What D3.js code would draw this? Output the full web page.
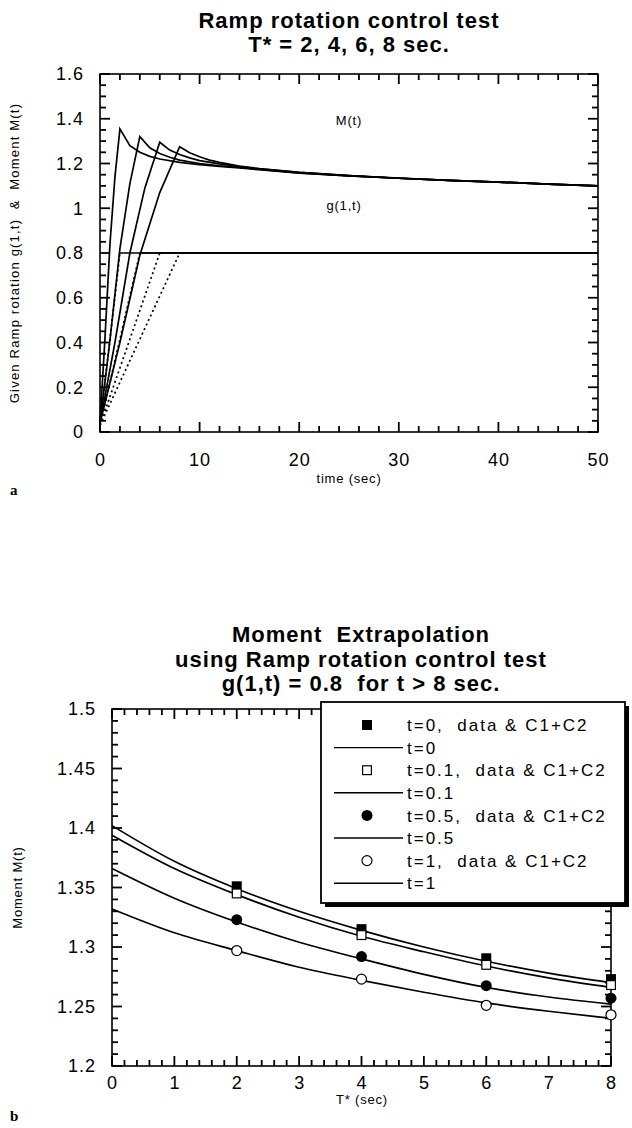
<html>
<head>
  <script src="https://d3js.org/d3.v7.min.js"></script>
  <style>
    body { margin: 0; background: #fff; font-family: 'Liberation Sans', Arial, Helvetica, sans-serif; }
    svg text { fill: #000; }
    .lbl text { font-size: 18px; letter-spacing: 1px; font-family: 'Liberation Sans', Arial, sans-serif; }
    .lbl .domain, .lbl line { display: none; }
    .title { font-weight: bold; font-size: 22px; letter-spacing: 1px; text-anchor: middle; }
    .axlabel { font-size: 13px; letter-spacing: 0.8px; text-anchor: middle; }
  </style>
</head>
<body>
  <svg id="fig" width="632" height="1128"></svg>

  <script>
    // ---- DATA : chart (a) ----
    const rampTimes = [2, 4, 6, 8];
    // moment M(t) for each ramp time T*, [time, moment]
    const momentT2 = [[0, 0.04], [0.5, 0.42], [1, 0.84], [1.5, 1.14], [2, 1.355], [3, 1.28], [4, 1.25], [5, 1.232], [6, 1.22], [8, 1.205], [10, 1.195], [12, 1.187], [14, 1.18], [16, 1.172], [20, 1.157], [25, 1.145], [30, 1.134], [35, 1.125], [40, 1.117], [45, 1.108], [50, 1.10]];
    const momentT4 = [[0, 0.04], [1, 0.41], [2, 0.82], [3, 1.11], [4, 1.32], [5, 1.27], [6, 1.245], [7, 1.228], [8, 1.215], [10, 1.2], [12, 1.19], [14, 1.182], [16, 1.174], [20, 1.158], [25, 1.145], [30, 1.134], [35, 1.125], [40, 1.117], [45, 1.108], [50, 1.10]];
    const momentT6 = [[0, 0.04], [1.5, 0.40], [3, 0.80], [4.5, 1.09], [6, 1.295], [7, 1.26], [8, 1.24], [9, 1.225], [10, 1.213], [12, 1.198], [14, 1.186], [16, 1.176], [20, 1.16], [25, 1.146], [30, 1.134], [35, 1.125], [40, 1.117], [45, 1.108], [50, 1.10]];
    const momentT8 = [[0, 0.04], [2, 0.40], [4, 0.79], [6, 1.07], [8, 1.275], [9, 1.248], [10, 1.23], [11, 1.215], [12, 1.205], [14, 1.188], [16, 1.177], [20, 1.16], [25, 1.146], [30, 1.135], [35, 1.125], [40, 1.117], [45, 1.108], [50, 1.10]];
    const momentCurves = [momentT2, momentT4, momentT6, momentT8];
    const rampLevel = 0.8;   // g(1,t) plateau
    const rampStart = 0.03;
    const timeEnd = 50;

    // ---- DATA : chart (b) ----
    const tStar = [2, 4, 6, 8];
    const dataT0 = [1.351, 1.315, 1.2905, 1.273];
    const dataT01 = [1.345, 1.310, 1.285, 1.268];
    const dataT05 = [1.323, 1.292, 1.2675, 1.257];
    const dataT1 = [1.297, 1.273, 1.251, 1.243];
    const fitX = [0, 1, 2, 3, 4, 5, 6, 7, 8];
    const fitT0 = [1.402, 1.372, 1.349, 1.330, 1.314, 1.300, 1.288, 1.278, 1.270];
    const fitT01 = [1.394, 1.366, 1.344, 1.325, 1.309, 1.296, 1.284, 1.274, 1.266];
    const fitT05 = [1.366, 1.341, 1.321, 1.304, 1.290, 1.277, 1.266, 1.258, 1.252];
    const fitT1 = [1.332, 1.312, 1.297, 1.283, 1.272, 1.262, 1.253, 1.246, 1.240];
    const legendLabels = ["t=0,  data & C1+C2", "t=0", "t=0.1,  data & C1+C2", "t=0.1",
      "t=0.5,  data & C1+C2", "t=0.5", "t=1,  data & C1+C2", "t=1"];
    const legendMarks = ["fsq", "line", "osq", "line", "fci", "line", "oci", "line"];

    const tickColor = "#000";
    const svg = d3.select("#fig");

    // inward ticks on all four sides, labels on left/bottom
    function frame(g, xs, ys, w, h, xMajor, xMinor, yMajor, yMinor, yFmt, xPad) {
      const major = 10, minor = 6;
      const isMajor = (list, v) => list.some(m => Math.abs(m - v) < 1e-6);
      const xt = xMinor.map(v => ({ v: v, len: isMajor(xMajor, v) ? major : minor }));
      const yt = yMinor.map(v => ({ v: v, len: isMajor(yMajor, v) ? major : minor }));
      g.selectAll("line.xb").data(xt).join("line").attr("class", "xb")
        .attr("x1", d => xs(d.v)).attr("x2", d => xs(d.v)).attr("y1", h).attr("y2", d => h - d.len)
        .attr("stroke", tickColor).attr("stroke-width", 1.8);
      g.selectAll("line.xt").data(xt).join("line").attr("class", "xt")
        .attr("x1", d => xs(d.v)).attr("x2", d => xs(d.v)).attr("y1", 0).attr("y2", d => d.len)
        .attr("stroke", tickColor).attr("stroke-width", 1.8);
      g.selectAll("line.yl").data(yt).join("line").attr("class", "yl")
        .attr("y1", d => ys(d.v)).attr("y2", d => ys(d.v)).attr("x1", 0).attr("x2", d => d.len)
        .attr("stroke", tickColor).attr("stroke-width", 1.8);
      g.selectAll("line.yr").data(yt).join("line").attr("class", "yr")
        .attr("y1", d => ys(d.v)).attr("y2", d => ys(d.v)).attr("x1", w).attr("x2", d => w - d.len)
        .attr("stroke", tickColor).attr("stroke-width", 1.8);
      // labels through the axes
      g.append("g").attr("class", "lbl").attr("transform", `translate(0,${h})`)
        .call(d3.axisBottom(xs).tickValues(xMajor).tickSize(0).tickPadding(xPad).tickFormat(d3.format("~g")));
      g.append("g").attr("class", "lbl")
        .call(d3.axisLeft(ys).tickValues(yMajor).tickSize(0).tickPadding(16).tickFormat(yFmt));
      g.append("rect").attr("width", w).attr("height", h)
        .attr("fill", "none").attr("stroke", "#000").attr("stroke-width", 1.6);
    }

    // ================= chart (a) =================
    const mA = { left: 100, top: 74, w: 498, h: 358 };
    const gA = svg.append("g").attr("transform", `translate(${mA.left},${mA.top})`);
    const xA = d3.scaleLinear().domain([0, 50]).range([0, mA.w]);
    const yA = d3.scaleLinear().domain([0, 1.6]).range([mA.h, 0]);

    frame(gA, xA, yA, mA.w, mA.h,
      d3.range(0, 51, 10), d3.range(0, 51, 2),
      d3.range(0, 1.61, 0.2), d3.range(0, 1.61, 0.05),
      d => String(+d.toFixed(1)), 21);

    const lineA = d3.line().x(d => xA(d[0])).y(d => yA(d[1]));

    // g(1,t): dotted ramp then flat
    gA.selectAll("path.ramp")
      .data(rampTimes)
      .join("path").attr("class", "ramp")
      .attr("d", T => lineA([[0, rampStart], [T, rampLevel]]))
      .attr("fill", "none").attr("stroke", "#000")
      .attr("stroke-width", 1.7).attr("stroke-dasharray", "2,3");
    gA.selectAll("path.flat")
      .data(rampTimes)
      .join("path").attr("class", "flat")
      .attr("d", T => lineA([[T, rampLevel], [timeEnd, rampLevel]]))
      .attr("fill", "none").attr("stroke", "#000").attr("stroke-width", 1.4);

    // M(t)
    gA.selectAll("path.moment")
      .data(momentCurves)
      .join("path").attr("class", "moment")
      .attr("d", lineA)
      .attr("fill", "none").attr("stroke", "#000").attr("stroke-width", 1.7);

    gA.append("text").attr("x", xA(25)).attr("y", yA(1.37)).attr("class", "axlabel").text("M(t)");
    gA.append("text").attr("x", xA(24.5)).attr("y", yA(0.99)).attr("class", "axlabel").text("g(1,t)");

    svg.append("text").attr("class", "title").attr("x", 349).attr("y", 28).text("Ramp rotation control test");
    svg.append("text").attr("class", "title").attr("x", 349).attr("y", 52).text("T* = 2, 4, 6, 8 sec.");
    svg.append("text").attr("class", "axlabel").attr("x", 349).attr("y", 483).text("time (sec)");
    svg.append("text").attr("class", "axlabel").style("white-space", "pre").style("letter-spacing", "1.2px")
      .attr("transform", `translate(19,${mA.top + mA.h / 2}) rotate(-90)`)
      .text("Given Ramp rotation g(1,t)  &  Moment M(t)");
    svg.append("text").attr("x", 10).attr("y", 495)
      .style("font-family", "'Liberation Serif', serif").style("font-weight", "bold").style("font-size", "15px")
      .text("a");

    // ================= chart (b) =================
    const mB = { left: 112, top: 709, w: 499, h: 357 };
    const gB = svg.append("g").attr("transform", `translate(${mB.left},${mB.top})`);
    const xB = d3.scaleLinear().domain([0, 8]).range([0, mB.w]);
    const yB = d3.scaleLinear().domain([1.2, 1.5]).range([mB.h, 0]);

    frame(gB, xB, yB, mB.w, mB.h,
      d3.range(0, 8.01, 1), d3.range(0, 8.01, 0.2),
      d3.range(1.2, 1.501, 0.05), d3.range(1.2, 1.501, 0.01),
      d => String(+d.toFixed(2)), 10);

    const lineB = d3.line().x((d, i) => xB(fitX[i])).y(d => yB(d)).curve(d3.curveMonotoneX);
    gB.selectAll("path.fit")
      .data([fitT0, fitT01, fitT05, fitT1])
      .join("path").attr("class", "fit")
      .attr("d", lineB)
      .attr("fill", "none").attr("stroke", "#000").attr("stroke-width", 1.7);

    const sq = 10, rc = 5.5;
    gB.selectAll("rect.fsq").data(dataT0).join("rect").attr("class", "fsq")
      .attr("x", (d, i) => xB(tStar[i]) - sq / 2).attr("y", d => yB(d) - sq / 2)
      .attr("width", sq).attr("height", sq).attr("fill", "#000");
    gB.selectAll("rect.osq").data(dataT01).join("rect").attr("class", "osq")
      .attr("x", (d, i) => xB(tStar[i]) - sq / 2 + 0.6).attr("y", d => yB(d) - sq / 2 + 0.6)
      .attr("width", sq - 1.2).attr("height", sq - 1.2).attr("fill", "#fff").attr("stroke", "#000").attr("stroke-width", 1.2);
    gB.selectAll("circle.fci").data(dataT05).join("circle").attr("class", "fci")
      .attr("cx", (d, i) => xB(tStar[i])).attr("cy", d => yB(d)).attr("r", rc).attr("fill", "#000");
    gB.selectAll("circle.oci").data(dataT1).join("circle").attr("class", "oci")
      .attr("cx", (d, i) => xB(tStar[i])).attr("cy", d => yB(d)).attr("r", rc - 0.5)
      .attr("fill", "#fff").attr("stroke", "#000").attr("stroke-width", 1.2);

    // legend box with shadow
    const lg = svg.append("g").attr("transform", "translate(321,702)");
    const lgW = 304, lgH = 201;
    lg.append("rect").attr("x", 4).attr("y", 4).attr("width", lgW).attr("height", lgH).attr("fill", "#000");
    lg.append("rect").attr("width", lgW).attr("height", lgH)
      .attr("fill", "#fff").attr("stroke", "#000").attr("stroke-width", 1.8);
    const rowY = d3.scaleLinear().domain([0, 1]).range([23, 45.6]);
    const rows = lg.selectAll("g.row").data(legendLabels).join("g").attr("class", "row")
      .attr("transform", (d, i) => `translate(0,${rowY(i)})`);
    rows.append("text").attr("x", 86).attr("dy", "0.36em")
      .style("font-size", "17px").style("letter-spacing", "2px").style("white-space", "pre")
      .text(d => d);
    rows.each(function (d, i) {
      const r = d3.select(this), k = legendMarks[i];
      if (k === "line") r.append("line").attr("x1", 13).attr("x2", 82).attr("stroke", "#000").attr("stroke-width", 1.4);
      if (k === "fsq") r.append("rect").attr("x", 41).attr("y", -5).attr("width", 10).attr("height", 10).attr("fill", "#000");
      if (k === "osq") r.append("rect").attr("x", 41.6).attr("y", -4.4).attr("width", 8.8).attr("height", 8.8)
        .attr("fill", "#fff").attr("stroke", "#000").attr("stroke-width", 1.2);
      if (k === "fci") r.append("circle").attr("cx", 46).attr("r", 5.5).attr("fill", "#000");
      if (k === "oci") r.append("circle").attr("cx", 46).attr("r", 5).attr("fill", "#fff").attr("stroke", "#000").attr("stroke-width", 1.2);
    });

    svg.append("text").attr("class", "title").attr("x", 361).attr("y", 642).style("white-space", "pre").text("Moment  Extrapolation");
    svg.append("text").attr("class", "title").attr("x", 361).attr("y", 667).text("using Ramp rotation control test");
    svg.append("text").attr("class", "title").attr("x", 361).attr("y", 691).style("white-space", "pre").text("g(1,t) = 0.8  for t > 8 sec.");
    svg.append("text").attr("class", "axlabel").attr("x", 362).attr("y", 1104).text("T* (sec)");
    svg.append("text").attr("class", "axlabel")
      .attr("transform", `translate(22,${mB.top + mB.h / 2}) rotate(-90)`)
      .text("Moment M(t)");
    svg.append("text").attr("x", 10).attr("y", 1121)
      .style("font-family", "'Liberation Serif', serif").style("font-weight", "bold").style("font-size", "15px")
      .text("b");
  </script>
</body>
</html>
